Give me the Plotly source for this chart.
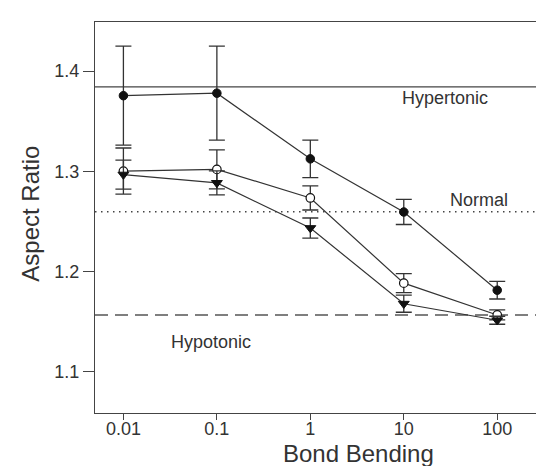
import plotly.graph_objects as go

# Data
bond_bending = [0.01, 0.1, 1, 10, 100]
hyper_vals = [1.3755, 1.3780, 1.3125, 1.2595, 1.1815]
hyper_err = [0.0494, 0.0469, 0.0187, 0.0125, 0.0088]
normal_vals = [1.3003, 1.3020, 1.2735, 1.1885, 1.1568]
normal_err = [0.0230, 0.0195, 0.0120, 0.0095, 0.0050]
hypo_vals = [1.2968, 1.2885, 1.2435, 1.1680, 1.1515]
hypo_err = [0.0145, 0.0120, 0.0100, 0.0085, 0.0040]

ref_levels = [1.3843, 1.2598, 1.1568]
ref_names = ["Hypertonic", "Normal", "Hypotonic"]

x_ticks = [0.01, 0.1, 1, 10, 100]
x_ticktext = ["0.01", "0.1", "1", "10", "100"]
y_ticks = [1.1, 1.2, 1.3, 1.4]

FONT = "Liberation Sans, Arial, Helvetica, sans-serif"
INK = "#333333"

fig = go.Figure()

def err(arr):
    return dict(type="data", array=arr, visible=True, color=INK,
                thickness=1.3, width=8)

fig.add_trace(go.Scatter(
    x=bond_bending, y=hyper_vals, mode="lines+markers",
    line=dict(color=INK, width=1.2),
    marker=dict(symbol="circle", size=8.5, color="#111111",
                line=dict(color="#111111", width=1)),
    error_y=err(hyper_err), showlegend=False))

fig.add_trace(go.Scatter(
    x=bond_bending, y=normal_vals, mode="lines+markers",
    line=dict(color=INK, width=1.2),
    marker=dict(symbol="circle", size=8.5, color="white",
                line=dict(color="#111111", width=1.2)),
    error_y=err(normal_err), showlegend=False))

fig.add_trace(go.Scatter(
    x=bond_bending, y=hypo_vals, mode="lines+markers",
    line=dict(color=INK, width=1.2),
    marker=dict(symbol="triangle-down", size=9.5, color="#111111",
                line=dict(color="#111111", width=1)),
    error_y=err(hypo_err), showlegend=False))

# Reference lines
fig.add_hline(y=ref_levels[0], line=dict(color="#444444", width=1.3, dash="solid"), layer="below")
fig.add_hline(y=ref_levels[1], line=dict(color="#444444", width=1.4, dash="1.5px,4.5px"), layer="below")
fig.add_hline(y=ref_levels[2], line=dict(color="#555555", width=1.6, dash="13px,7px"), layer="below")

# Reference labels
label_pos = [(0.7663, 0.8056), (0.8403, 0.5448), (0.2532, 0.1816)]
for name, (px, py) in zip(ref_names, label_pos):
    fig.add_annotation(text=name, xref="paper", yref="paper", x=px, y=py,
                       xanchor="center", yanchor="middle", showarrow=False,
                       font=dict(family=FONT, size=18, color=INK))

# Axis titles as annotations
fig.add_annotation(text="Aspect Ratio", xref="paper", yref="paper",
                   x=(23 - 87.3) / 457, y=0.509, textangle=-90,
                   xanchor="center", yanchor="middle", showarrow=False,
                   font=dict(family=FONT, size=24, color=INK))
fig.add_annotation(text="Bond Bending", xref="paper", yref="paper",
                   x=0.577, y=(405 - 461) / 391, xanchor="center", yanchor="bottom",
                   showarrow=False, font=dict(family=FONT, size=24, color=INK))

fig.update_layout(
    width=544, height=466,
    margin=dict(l=87.3, r=0, t=14, b=61, pad=0),
    paper_bgcolor="white", plot_bgcolor="white",
    font=dict(family=FONT, color=INK),
)
fig.update_xaxes(
    type="log", range=[-2.304, 2.586],
    tickvals=x_ticks, ticktext=x_ticktext,
    ticks="outside", ticklen=6, tickwidth=1.3, tickcolor="#444444",
    showline=True, linecolor="#444444", linewidth=1.3, mirror=True,
    showgrid=False, zeroline=False, ticklabelstandoff=-7,
    tickfont=dict(family=FONT, size=18, color=INK),
)
fig.update_yaxes(
    range=[1.059, 1.449], tickvals=y_ticks,
    ticks="outside", ticklen=11, tickwidth=1.3, tickcolor="#444444",
    showline=True, linecolor="#444444", linewidth=1.3, mirror=False,
    showgrid=False, zeroline=False,
    tickfont=dict(family=FONT, size=18, color=INK),
)

fig.write_html("out.html")
